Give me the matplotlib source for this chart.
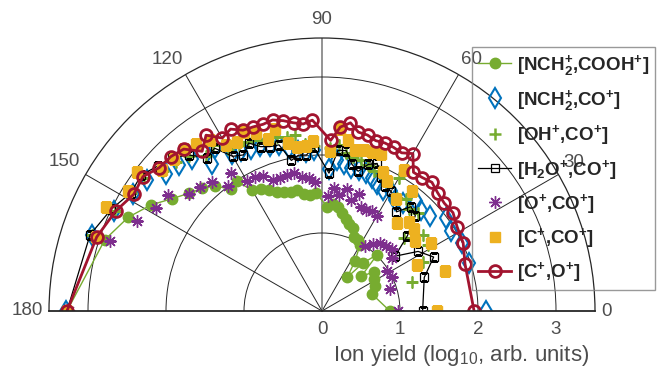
import numpy as np
import matplotlib
matplotlib.use("Agg")
import matplotlib.pyplot as plt
from matplotlib.font_manager import FontProperties

plt.rcParams['font.family'] = ['Liberation Sans', 'DejaVu Sans']
plt.rcParams['mathtext.fontset'] = 'custom'
plt.rcParams['mathtext.rm'] = 'Liberation Sans'
plt.rcParams['mathtext.it'] = 'Liberation Sans'
plt.rcParams['mathtext.bf'] = 'Liberation Sans:bold'

# emission angles (deg), equal steps in cos(theta), 90 deg missing
theta_deg = [180, 161.8, 154.2, 148.2, 143.1, 138.6, 134.4, 130.5, 126.9, 123.4,
             120.0, 116.7, 113.6, 110.5, 107.5, 104.5, 101.5, 98.6, 95.7, 92.9,
             87.1, 84.3, 81.4, 78.5, 75.5, 72.5, 69.5, 66.4, 63.3, 60.0,
             56.6, 53.1, 49.5, 45.6, 41.4, 36.9, 31.8, 25.8, 18.2, 0.0]

# ion yield (log10, arb. units)
nch2_cooh = [3.27, 2.93, 2.76, 2.58, 2.40, 2.28, 2.20, 2.11, 1.95, 1.99,
             1.79, 1.75, 1.69, 1.63, 1.60, 1.58, 1.58, 1.52, 1.50, 1.51,
             1.34, 1.38, 1.35, 1.28, 1.22, 1.17, 1.13, 1.03, 1.02, 0.97,
             0.77, 0.54, 0.81, 1.01, 0.67, 0.84, 0.79, 0.75, 0.68, 0.87]
nch2_co = [3.28, 3.10, 2.96, 2.85, 2.80, 2.66, 2.62, 2.56, 2.35, 2.50,
           2.32, 2.30, 2.27, 2.26, 2.22, 2.20, 2.13, 2.07, 2.05, 2.07,
           1.82, 1.95, 1.91, 1.87, 1.87, 1.86, 1.82, 1.77, 1.74, 1.78,
           1.71, 1.73, 1.86, 1.82, 1.84, 1.98, 1.95, 2.00, 1.98, 2.10]
oh_co = [3.27, 3.10, 2.95, 2.88, 2.85, 2.72, 2.68, 2.62, 2.48, 2.55,
         2.40, 2.38, 2.37, 2.34, 2.30, 2.30, 2.28, 2.28, 2.15, 2.12,
         2.09, 2.14, 2.05, 2.02, 2.00, 1.96, 1.92, 1.90, 1.85, 1.97,
         1.74, 1.79, 1.72, 1.76, 1.41, 1.62, 1.60, 1.44, 1.21, 1.45]
h2o_co = [3.27, 3.13, 3.00, 2.88, 2.90, 2.81, 2.75, 2.63, 2.46, 2.50,
          2.29, 2.24, 2.35, 2.25, 2.21, 2.20, 1.97, 2.02, 2.01, 2.10,
          1.77, 2.07, 2.08, 1.92, 1.85, 1.97, 2.02, 1.88, 1.80, 1.77,
          1.72, 1.59, 1.76, 1.71, 1.46, 1.17, 1.45, 1.59, 1.38, 1.29]
o_co = [3.25, 2.86, 2.64, 2.50, 2.47, 2.27, 2.23, 2.17, 2.01, 2.12,
        1.92, 1.92, 1.89, 1.79, 1.79, 1.80, 1.80, 1.74, 1.71, 1.65,
        1.47, 1.58, 1.50, 1.60, 1.47, 1.57, 1.43, 1.42, 1.43, 1.40,
        1.00, 1.08, 1.14, 1.17, 1.20, 1.13, 0.98, 1.00, 0.92, 0.98]
c_co = [3.27, 3.05, 3.07, 2.92, 2.97, 2.74, 2.72, 2.73, 2.68, 2.62,
        2.46, 2.43, 2.50, 2.43, 2.31, 2.41, 2.20, 2.13, 2.12, 2.18,
        2.05, 2.35, 2.22, 2.10, 2.13, 2.14, 2.15, 1.94, 1.86, 2.09,
        1.72, 1.92, 1.48, 1.59, 1.58, 1.49, 1.65, 1.35, 1.66, 1.47]
c_o = [3.27, 3.04, 2.94, 2.84, 2.87, 2.78, 2.77, 2.73, 2.56, 2.70,
       2.56, 2.61, 2.53, 2.52, 2.51, 2.53, 2.49, 2.44, 2.41, 2.45,
       2.19, 2.37, 2.44, 2.34, 2.33, 2.29, 2.30, 2.29, 2.27, 2.33,
       2.13, 2.14, 2.17, 2.12, 2.09, 2.10, 2.04, 2.01, 1.93, 1.95]

labels = [r'[NCH$_\mathbf{2}^\mathbf{+}$,COOH$^\mathbf{+}$]',
          r'[NCH$_\mathbf{2}^\mathbf{+}$,CO$^\mathbf{+}$]',
          r'[OH$^\mathbf{+}$,CO$^\mathbf{+}$]',
          r'[H$_\mathbf{2}$O$^\mathbf{+}$,CO$^\mathbf{+}$]',
          r'[O$^\mathbf{+}$,CO$^\mathbf{+}$]',
          r'[C$^\mathbf{+}$,CO$^\mathbf{+}$]',
          r'[C$^\mathbf{+}$,O$^\mathbf{+}$]']

angle_ticks = [0, 30, 60, 90, 120, 150, 180]
# label offsets from the outer rim, in pixels (right, up)
angle_offsets = [(12, 0), (15, 12), (13, 15), (0, 18), (-18, 15), (-21, 13), (-22, 0)]
r_ticks = [0, 1, 2, 3]

th = np.deg2rad(theta_deg)
grey = '#4d4d4d'
fs = 13.5

fig = plt.figure(figsize=(6.59, 3.71), dpi=100)
# square box; the half disc is fitted to its width and centred vertically
ax = fig.add_axes([49/659, -76.5/371, 546/659, 546/371], projection='polar')
ax.set_thetamin(0)
ax.set_thetamax(180)
ax.set_rlim(0, 3.5)
ax.set_rticks([1, 2, 3])
ax.set_yticklabels([])
ax.set_thetagrids(angle_ticks, labels=[''] * len(angle_ticks))
ax.grid(color='#262626', lw=0.7)
gl90 = ax.xaxis.get_gridlines()[3]
gl90.set_color('#8a8a8a')
gl90.set_linewidth(1.3)
for s in ax.spines.values():
    s.set_color('#262626')
    s.set_linewidth(0.9)
ax.spines['start'].set_linewidth(1.3)
ax.spines['end'].set_linewidth(1.3)

ax.plot(th, nch2_cooh, '-o', color='#77AC30', ms=7.5, lw=1, label=labels[0])
ax.plot(th, nch2_co, 'd', color='#0072BD', mfc='none', ms=10, mew=1.5, label=labels[1])
ax.plot(th, oh_co, '+', color='#77AC30', ms=9, mew=1.8, label=labels[2])
ax.plot(th, h2o_co, '-s', color='black', mfc='none', ms=5.5, lw=0.9, mew=0.9, label=labels[3])
ax.plot(th, o_co, ls='none', marker=(8, 2, 0), color='#7E2F8E', ms=9, mew=1.0, label=labels[4])
ax.plot(th, c_co, 's', color='#EDB120', ms=7.5, mec='#EDB120', label=labels[5])
ax.plot(th, c_o, '-o', color='#A2142F', mfc='none', ms=8.5, lw=2, mew=2, label=labels[6])

for a, (dx, dy) in zip(angle_ticks, angle_offsets):
    ax.annotate(str(a), xy=(np.deg2rad(a), 3.5), xytext=(dx * 0.72, dy * 0.72),
                textcoords='offset points', ha='center', va='center',
                color=grey, fontsize=fs, annotation_clip=False)

for r in r_ticks:
    ax.annotate(str(r), xy=(0, r), xytext=(0, -13), textcoords='offset points',
                ha='center', va='center', color=grey, fontsize=fs)

fig.text(461/659, 1 - 355/371, 'Ion yield (log$_{10}$, arb. units)', ha='center',
         va='center', color=grey, fontsize=16)

leg = ax.legend(loc='upper left', bbox_to_anchor=(472/659, 1 - 47/371),
                bbox_transform=fig.transFigure, fancybox=False, facecolor='none',
                edgecolor='#808080', prop=FontProperties(family='Liberation Sans', weight='bold', size=fs),
                labelspacing=0.55, handlelength=1.8, handletextpad=0.3, borderpad=0.3,
                borderaxespad=0, numpoints=1)
leg.get_frame().set_linewidth(1.0)
for t in leg.get_texts():
    t.set_color('#262626')

fig.savefig('out.png', dpi=100)
